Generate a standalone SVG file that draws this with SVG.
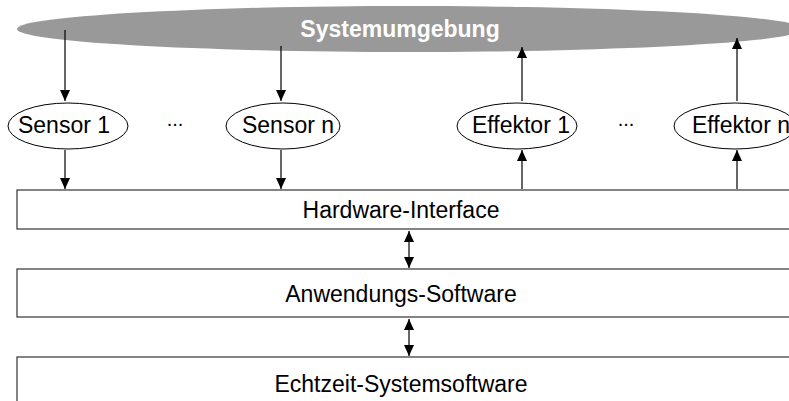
<svg xmlns="http://www.w3.org/2000/svg" width="789" height="401" viewBox="0 0 789 401">
  <style>
    text { font-family: "Liberation Sans", Arial, sans-serif; font-size: 23px; fill: #000; text-anchor: middle; }
    .env { fill: #999999; }
    .env-label { fill: #ffffff; font-weight: bold; }
    .node { fill: #ffffff; stroke: #000; stroke-width: 1; }
    .layer { fill: #ffffff; stroke: #333; stroke-width: 1.2; }
    .dots { font-size: 20px; }
    .conn line { stroke: #000; stroke-width: 1.2; }
  </style>
  <defs>
    <marker id="arrow" viewBox="0 0 11 10" refX="11" refY="5" markerWidth="11" markerHeight="10" markerUnits="userSpaceOnUse" orient="auto-start-reverse">
      <path d="M0,0 L11,5 L0,10 z" fill="#000"/>
    </marker>
  </defs>
  <rect width="789" height="401" fill="#ffffff"/>

  <g id="systemumgebung">
    <ellipse class="env" cx="410" cy="29" rx="393" ry="23"/>
    <text class="env-label" x="400" y="37">Systemumgebung</text>
  </g>

  <g id="sensor1">
    <ellipse class="node" cx="68" cy="126" rx="60" ry="23"/>
    <text x="64" y="133">Sensor 1</text>
  </g>
  <g id="sensorn">
    <ellipse class="node" cx="283" cy="126" rx="57" ry="23"/>
    <text x="288" y="133">Sensor n</text>
  </g>
  <g id="effektor1">
    <ellipse class="node" cx="517" cy="126" rx="60" ry="23"/>
    <text x="521" y="133">Effektor 1</text>
  </g>
  <g id="effektorn">
    <ellipse class="node" cx="735" cy="126" rx="61" ry="23"/>
    <text x="741" y="133">Effektor n</text>
  </g>
  <g id="dots">
    <text class="dots" x="175" y="126">...</text>
    <text class="dots" x="626" y="126">...</text>
  </g>

  <g id="hardware-interface">
    <rect class="layer" x="17" y="190" width="790" height="39"/>
    <text x="401" y="218">Hardware-Interface</text>
  </g>
  <g id="anwendungs-software">
    <rect class="layer" x="17" y="269" width="790" height="48"/>
    <text x="401" y="302">Anwendungs-Software</text>
  </g>
  <g id="echtzeit-systemsoftware">
    <rect class="layer" x="17" y="357" width="790" height="60"/>
    <text x="401" y="392">Echtzeit-Systemsoftware</text>
  </g>

  <g class="conn" id="connectors">
    <line x1="65" y1="30" x2="65" y2="101" marker-end="url(#arrow)"/>
    <line x1="281" y1="46" x2="281" y2="101" marker-end="url(#arrow)"/>
    <line x1="65" y1="150" x2="65" y2="189" marker-end="url(#arrow)"/>
    <line x1="281" y1="150" x2="281" y2="189" marker-end="url(#arrow)"/>
    <line x1="522" y1="101" x2="522" y2="47" marker-end="url(#arrow)"/>
    <line x1="737" y1="101" x2="737" y2="38" marker-end="url(#arrow)"/>
    <line x1="522" y1="189" x2="522" y2="150" marker-end="url(#arrow)"/>
    <line x1="737" y1="189" x2="737" y2="150" marker-end="url(#arrow)"/>
    <line x1="409" y1="231" x2="409" y2="268" marker-start="url(#arrow)" marker-end="url(#arrow)"/>
    <line x1="409" y1="319" x2="409" y2="356" marker-start="url(#arrow)" marker-end="url(#arrow)"/>
  </g>
</svg>
